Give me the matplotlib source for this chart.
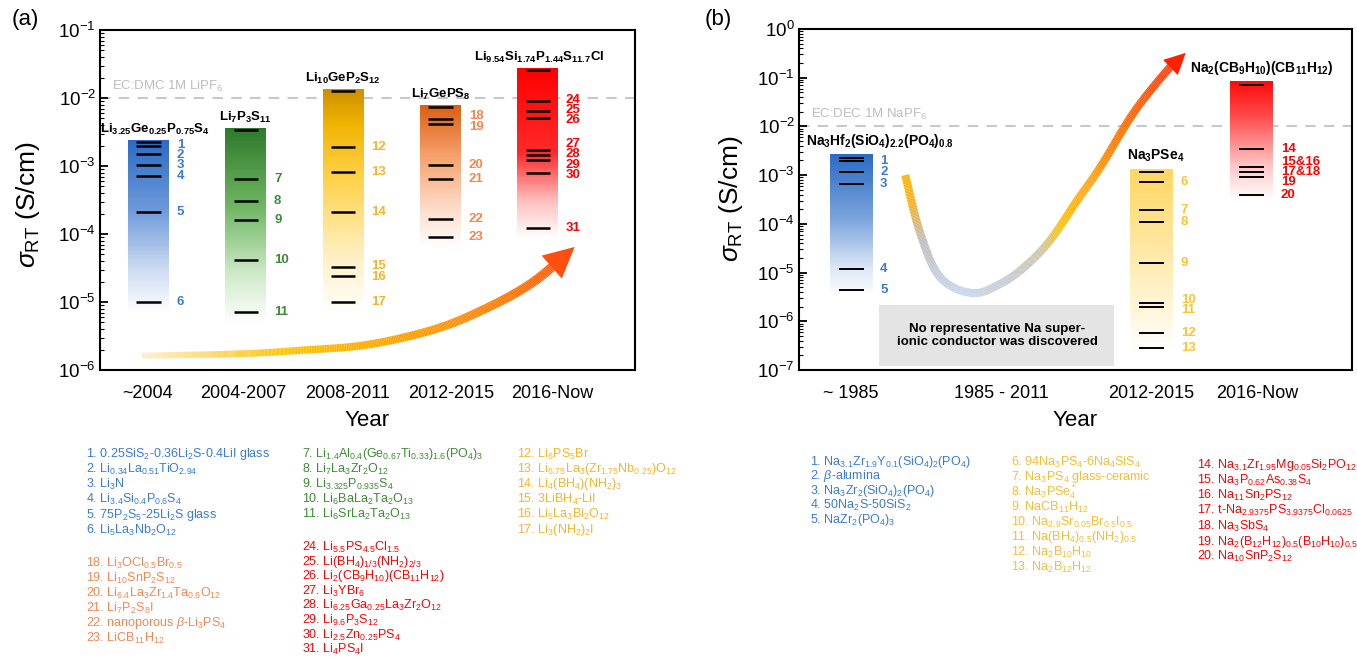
import numpy as np
import matplotlib
matplotlib.use("Agg")
import matplotlib.pyplot as plt
from matplotlib.colors import LinearSegmentedColormap
from matplotlib.collections import LineCollection
from matplotlib.ticker import LogLocator, FuncFormatter, NullFormatter

plt.rcParams["font.family"] = "Liberation Sans"
plt.rcParams["mathtext.fontset"] = "custom"
plt.rcParams["mathtext.rm"] = "Liberation Sans"
plt.rcParams["mathtext.it"] = "Liberation Sans:italic"
plt.rcParams["mathtext.bf"] = "Liberation Sans:bold"
plt.rcParams["mathtext.default"] = "regular"

W, H = 1357, 658

# ---------------- (a) Li-ion conductors ----------------
li_periods = ["~2004", "2004-2007", "2008-2011", "2012-2015", "2016-Now"]
li_tick_x = [0.99, 1.97, 3.05, 4.11, 5.15]
li_bar_x = [1, 2, 3, 4, 5]
li_names = [r"$\mathbf{Li_{3.25}Ge_{0.25}P_{0.75}S_4}$",
            r"$\mathbf{Li_7P_3S_{11}}$",
            r"$\mathbf{Li_{10}GeP_2S_{12}}$",
            r"$\mathbf{Li_7GePS_8}$",
            r"$\mathbf{Li_{9.54}Si_{1.74}P_{1.44}S_{11.7}Cl}$"]
li_name_x = [1.07, 2, 3, 4, 5.02]
li_best = [2.27e-3, 3.35e-3, 1.26e-2, 7.3e-3, 2.6e-2]
li_vals = [[1.97e-3, 1.49e-3, 1.03e-3, 7.2e-4, 2.09e-4, 1.0e-5],
           [6.4e-4, 3.1e-4, 1.6e-4, 4.1e-5, 7.1e-6],
           [1.88e-3, 8.2e-4, 2.09e-4, 3.3e-5, 2.4e-5, 1.0e-5],
           [4.97e-3, 4.1e-3, 1.02e-3, 6.45e-4, 1.66e-4, 9.0e-5],
           [9.1e-3, 6.4e-3, 5.1e-3, 1.72e-3, 1.45e-3, 1.23e-3, 8.0e-4, 1.24e-4]]
li_ids = [["1", "2", "3", "4", "5", "6"],
          ["7", "8", "9", "10", "11"],
          ["12", "13", "14", "15", "16", "17"],
          ["18", "19", "20", "21", "22", "23"],
          ["24", "25", "26", "27", "28", "29", "30", "31"]]
li_liquid = 1e-2

li_refs_blue = ["1. 0.25SiS$_2$-0.36Li$_2$S-0.4LiI glass",
                "2. Li$_{0.34}$La$_{0.51}$TiO$_{2.94}$",
                "3. Li$_3$N",
                "4. Li$_{3.4}$Si$_{0.4}$P$_{0.6}$S$_4$",
                "5. 75P$_2$S$_5$-25Li$_2$S glass",
                "6. Li$_5$La$_3$Nb$_2$O$_{12}$"]
li_refs_green = ["7. Li$_{1.4}$Al$_{0.4}$(Ge$_{0.67}$Ti$_{0.33}$)$_{1.6}$(PO$_4$)$_3$",
                 "8. Li$_7$La$_3$Zr$_2$O$_{12}$",
                 "9. Li$_{3.325}$P$_{0.935}$S$_4$",
                 "10. Li$_6$BaLa$_2$Ta$_2$O$_{13}$",
                 "11. Li$_6$SrLa$_2$Ta$_2$O$_{13}$"]
li_refs_yellow = ["12. Li$_6$PS$_5$Br",
                  "13. Li$_{6.75}$La$_3$(Zr$_{1.75}$Nb$_{0.25}$)O$_{12}$",
                  "14. Li$_4$(BH$_4$)(NH$_2$)$_3$",
                  "15. 3LiBH$_4$-LiI",
                  "16. Li$_5$La$_3$Bi$_2$O$_{12}$",
                  "17. Li$_3$(NH$_2$)$_2$I"]
li_refs_orange = ["18. Li$_3$OCl$_{0.5}$Br$_{0.5}$",
                  "19. Li$_{10}$SnP$_2$S$_{12}$",
                  "20. Li$_{6.4}$La$_3$Zr$_{1.4}$Ta$_{0.6}$O$_{12}$",
                  "21. Li$_7$P$_2$S$_8$I",
                  r"22. nanoporous $\mathit{\beta}$-Li$_3$PS$_4$",
                  "23. LiCB$_{11}$H$_{12}$"]
li_refs_red = ["24. Li$_{5.5}$PS$_{4.5}$Cl$_{1.5}$",
               "25. Li(BH$_4$)$_{1/3}$(NH$_2$)$_{2/3}$",
               "26. Li$_2$(CB$_9$H$_{10}$)(CB$_{11}$H$_{12}$)",
               "27. Li$_3$YBr$_6$",
               "28. Li$_{6.25}$Ga$_{0.25}$La$_3$Zr$_2$O$_{12}$",
               "29. Li$_{9.6}$P$_3$S$_{12}$",
               "30. Li$_{2.5}$Zn$_{0.25}$PS$_4$",
               "31. Li$_4$PS$_4$I"]

# ---------------- (b) Na-ion conductors ----------------
na_periods = ["~ 1985", "1985 - 2011", "2012-2015", "2016-Now"]
na_tick_x = [1, 2.5, 4, 5.05]
na_bar_x = [1, 4, 5]
na_names = [r"$\mathbf{Na_3Hf_2(SiO_4)_{2.2}(PO_4)_{0.8}}$",
            r"$\mathbf{Na_3PSe_4}$",
            r"$\mathbf{Na_2(CB_9H_{10})(CB_{11}H_{12})}$"]
na_best = [2.28e-3, 1.14e-3, 7.07e-2]
na_vals = [[1.95e-3, 1.17e-3, 6.65e-4, 1.16e-5, 4.4e-6],
           [7.3e-4, 1.92e-4, 1.09e-4, 1.55e-5, 2.4e-6, 1.96e-6, 5.8e-7, 2.86e-7],
           [3.4e-3, 1.44e-3, 1.14e-3, 9.0e-4, 4.0e-4]]
na_ids = [["1", "2", "3", "4", "5"],
          ["6", "7", "8", "9", "10", "11", "12", "13"],
          ["14", "15&16", "17&18", "19", "20"]]
na_liquid = 1e-2

na_refs_blue = ["1. Na$_{3.1}$Zr$_{1.9}$Y$_{0.1}$(SiO$_4$)$_2$(PO$_4$)",
                r"2. $\mathit{\beta}$-alumina",
                "3. Na$_3$Zr$_2$(SiO$_4$)$_2$(PO$_4$)",
                "4. 50Na$_2$S-50SiS$_2$",
                "5. NaZr$_2$(PO$_4$)$_3$"]
na_refs_yellow = ["6. 94Na$_3$PS$_4$-6Na$_4$SiS$_4$",
                  "7. Na$_3$PS$_4$ glass-ceramic",
                  "8. Na$_3$PSe$_4^*$",
                  "9. NaCB$_{11}$H$_{12}$",
                  "10. Na$_{2.9}$Sr$_{0.05}$Br$_{0.5}$I$_{0.5}$",
                  "11. Na(BH$_4$)$_{0.5}$(NH$_2$)$_{0.5}$",
                  "12. Na$_2$B$_{10}$H$_{10}$",
                  "13. Na$_2$B$_{12}$H$_{12}$"]
na_refs_red = ["14. Na$_{3.1}$Zr$_{1.95}$Mg$_{0.05}$Si$_2$PO$_{12}$",
               "15. Na$_3$P$_{0.62}$As$_{0.38}$S$_4$",
               "16. Na$_{11}$Sn$_2$PS$_{12}$",
               "17. t-Na$_{2.9375}$PS$_{3.9375}$Cl$_{0.0625}$",
               "18. Na$_3$SbS$_4$",
               "19. Na$_2$(B$_{12}$H$_{12}$)$_{0.5}$(B$_{10}$H$_{10}$)$_{0.5}$",
               "20. Na$_{10}$SnP$_2$S$_{12}$"]

# trend arrows, (x, log10 sigma) guide points
trend_a = [(0.93, -5.79), (1.95, -5.76), (2.56, -5.71), (3.24, -5.63),
           (3.92, -5.41), (4.43, -5.12), (4.94, -4.72), (5.38, -4.19)]
trend_b = [(1.54, -3.00), (1.69, -4.19), (1.89, -5.10), (2.21, -5.42),
           (2.50, -5.22), (2.75, -4.85), (2.99, -4.33), (3.26, -3.51),
           (3.49, -2.83), (3.82, -1.72), (4.16, -0.84), (4.34, -0.49)]

# colours
li_txt = ["#3a7bd5", "#3d8b35", "#f6b42c", "#f5864f", "#ff0000"]
na_txt = ["#3a7bd5", "#fcc431", "#ff0000"]
li_grad = [[(0, "#ffffff"), (0.25, "#cddcf2"), (0.6, "#6d99d9"), (1, "#2b6bc5")],
           [(0, "#ffffff"), (0.25, "#cfeac9"), (0.6, "#6fb661"), (1, "#2e7a2c")],
           [(0, "#ffffff"), (0.25, "#fff0c4"), (0.6, "#ffd24a"), (0.85, "#f0b300"), (1, "#cc8f00")],
           [(0, "#ffffff"), (0.3, "#fdd9c4"), (0.65, "#f5a06c"), (1, "#dd5f12")],
           [(0, "#ffffff"), (0.22, "#ffc0c0"), (0.5, "#ff2a2a"), (1, "#ff0000")]]
na_grad = [[(0, "#ffffff"), (0.2, "#dbe6f6"), (0.55, "#7aa3dc"), (1, "#2a6bc4")],
           [(0, "#ffffff"), (0.35, "#fff1c8"), (1, "#ffd660")],
           [(0, "#ffffff"), (0.3, "#ffc4c4"), (0.7, "#ff4d4d"), (1, "#ff0a0a")]]
arrow_a_grad = [(0, "#fcefd0"), (0.2, "#ffd34d"), (0.3, "#ffc400"), (0.55, "#ffa500"),
                (0.8, "#ff7800"), (1, "#ff4d00")]
arrow_b_grad = [(0, "#ffb300"), (0.06, "#f5b020"), (0.14, "#bdbdbd"), (0.28, "#c3d3ea"),
                (0.40, "#c0c4cc"), (0.48, "#c9c09e"), (0.55, "#ffc000"), (0.70, "#ff9000"),
                (0.86, "#ff5a00"), (1, "#ff2000")]


def spread(vals, gap):
    # push label positions apart (in decades) so they do not overlap
    y = np.log10(np.asarray(vals, float))
    for _ in range(500):
        moved = False
        for i in range(len(y) - 1):
            d = y[i] - y[i + 1]
            if d < gap - 1e-9:
                s = (gap - d) / 2
                y[i] += s
                y[i + 1] -= s
                moved = True
        if not moved:
            break
    return 10 ** y


def catmull(pts, n=40):
    P = np.asarray(pts, float)
    P = np.vstack([2 * P[0] - P[1], P, 2 * P[-1] - P[-2]])
    t = np.linspace(0, 1, n, endpoint=False)[:, None]
    out = []
    for i in range(1, len(P) - 2):
        p0, p1, p2, p3 = P[i - 1], P[i], P[i + 1], P[i + 2]
        out.append(0.5 * (2 * p1 + (-p0 + p2) * t + (2 * p0 - 5 * p1 + 4 * p2 - p3) * t ** 2
                          + (-p0 + 3 * p1 - 3 * p2 + p3) * t ** 3))
    out.append(P[-2][None])
    return np.vstack(out)


def gradient_arrow(ax, pts, stops, widths, head_ms, head_color):
    xy = catmull(pts)
    x, y = xy[:, 0], 10 ** xy[:, 1]
    disp = ax.transData.transform(np.column_stack([x, y]))
    d = np.r_[0, np.cumsum(np.hypot(*np.diff(disp, axis=0).T))]
    t = d / d[-1]
    head_len = 0.4 * head_ms * fig.dpi / 72
    segs = np.stack([np.column_stack([x[:-1], y[:-1]]), np.column_stack([x[1:], y[1:]])], axis=1)
    tm = (t[:-1] + t[1:]) / 2
    cmap = LinearSegmentedColormap.from_list("g", stops)
    lw = np.interp(tm, [0, 1], widths)
    keep = d[1:] <= d[-1] - 0.7 * head_len
    lc = LineCollection(segs[keep], colors=cmap(tm[keep]), linewidths=lw[keep],
                        capstyle="butt", zorder=4)
    ax.add_collection(lc)
    j = np.searchsorted(d, d[-1] - 1.3 * head_len)
    ax.annotate("", xy=(x[-1], y[-1]), xytext=(x[j], y[j]),
                arrowprops=dict(arrowstyle="-|>", mutation_scale=head_ms, fc=head_color,
                                ec=head_color, lw=0, shrinkA=0, shrinkB=0), zorder=5)


def style_axis(ax, ylim, xlim, ticks_x, tick_labels):
    ax.set_yscale("log")
    ax.set_ylim(*ylim)
    ax.set_xlim(*xlim)
    ax.yaxis.set_major_locator(LogLocator(base=10, numticks=20))
    ax.yaxis.set_minor_locator(LogLocator(base=10, subs=np.arange(2, 10), numticks=20))
    ax.yaxis.set_minor_formatter(NullFormatter())
    ax.yaxis.set_major_formatter(FuncFormatter(lambda v, _: r"$10^{%d}$" % round(np.log10(v))))
    ax.tick_params(axis="y", which="major", direction="in", length=6, width=1.3,
                   labelsize=13.5, pad=3)
    ax.tick_params(axis="y", which="minor", direction="in", length=3, width=0.8)
    ax.set_xticks(ticks_x)
    ax.set_xticklabels(tick_labels)
    ax.tick_params(axis="x", length=0, labelsize=13, pad=11)
    for s in ax.spines.values():
        s.set_linewidth(1.5)


def draw_bars(ax, xs, best, vals, ids, grads, txt, width, half, gap, lw_line, pad_top, pad_bot):
    for i, x in enumerate(xs):
        top = best[i] * pad_top
        bot = min(vals[i]) / pad_bot
        edges = np.logspace(np.log10(bot), np.log10(top), 150)
        frac = np.linspace(0, 1, 149)[:, None]
        cmap = LinearSegmentedColormap.from_list("bar%d" % i, grads[i])
        ax.pcolormesh([x - width / 2, x + width / 2], edges, frac, cmap=cmap,
                      vmin=0, vmax=1, shading="flat", zorder=1)
        ax.hlines([best[i]] + vals[i], x - half, x + half, colors="k", lw=lw_line, zorder=2)
        for yy, lab in zip(spread(vals[i], gap), ids[i]):
            ax.text(x + 0.29, yy, lab, color=txt[i], fontsize=9.5, fontweight="bold",
                    ha="left", va="center", zorder=3)


def ftext(px, py, s, **kw):
    fig.text(px / W, 1 - py / H, s, **kw)


def ref_column(px, py, items, color, step):
    for k, s in enumerate(items):
        ftext(px, py + k * step, s, color=color, fontsize=9, ha="left", va="center")


fig = plt.figure(figsize=(W / 100, H / 100), dpi=100)
axa = fig.add_axes([100 / W, 1 - 370 / H, 535 / W, 340 / H])
axb = fig.add_axes([799 / W, 1 - 370 / H, 553 / W, 341 / H])

# ---- panel (a)
style_axis(axa, (1e-6, 1e-1), (0.5, 6.0), li_tick_x, li_periods)
axa.axhline(li_liquid, color="#c8c8c8", lw=1.5, ls=(0, (5, 4)), zorder=0.5)
axa.annotate("EC:DMC 1M LiPF$_6$", (0.62, li_liquid), xytext=(0, 3), textcoords="offset points",
             color="#bdbdbd", fontsize=9.5, ha="left", va="bottom")
draw_bars(axa, li_bar_x, li_best, li_vals, li_ids, li_grad, li_txt,
          0.42, 0.125, 0.152, 1.8, 1.08, 1.5)
for x, b, n in zip(li_name_x, li_best, li_names):
    axa.annotate(n, (x, b * 1.08), xytext=(0, 2), textcoords="offset points",
                 fontsize=9.5, ha="center", va="bottom", zorder=3)
gradient_arrow(axa, trend_a, arrow_a_grad, (4.3, 7.0), 55, "#ff4f10")

# ---- panel (b)
style_axis(axb, (1e-7, 1e0), (0.48, 6.0), na_tick_x, na_periods)
axb.axhline(na_liquid, color="#c8c8c8", lw=1.5, ls=(0, (5, 4)), zorder=0.5)
axb.annotate("EC:DEC 1M NaPF$_6$", (0.6, na_liquid), xytext=(0, 3), textcoords="offset points",
             color="#bdbdbd", fontsize=9.5, ha="left", va="bottom")
draw_bars(axb, na_bar_x, na_best, na_vals, na_ids, na_grad, na_txt,
          0.43, 0.125, 0.205, 1.4, 1.2, 1.35)
name_pos = [(0.55, "left"), (4.04, "center"), (5.1, "center")]
for (nx, ha), b, n in zip(name_pos, na_best, na_names):
    axb.annotate(n, (nx, b * 1.2), xytext=(0, 3), textcoords="offset points",
                 fontsize=10, ha=ha, va="bottom", zorder=3)
axb.fill_between([1.28, 3.62], 1.2e-7, 2.15e-6, color="#e4e4e4", lw=0, zorder=0.8)
axb.text(2.46, np.sqrt(1.2e-7 * 2.15e-6), "No representative Na super-\nionic conductor was discovered",
         fontsize=9.5, fontweight="bold", ha="center", va="center", linespacing=1.15, zorder=3)
gradient_arrow(axb, trend_b, arrow_b_grad, (5.8, 5.8), 38, "#ff2000")

# ---- axis titles / panel tags
ylab = r"$\mathit{\sigma}_{\mathrm{RT}}$ (S/cm)"
ftext(28, 205, ylab, fontsize=19, rotation=90, ha="center", va="center")
ftext(731, 199, ylab, fontsize=19, rotation=90, ha="center", va="center")
ftext(367, 421, "Year", fontsize=16, ha="center", va="center")
ftext(1075, 421, "Year", fontsize=16, ha="center", va="center")
ftext(25, 20, "(a)", fontsize=16, ha="center", va="center")
ftext(718, 20, "(b)", fontsize=16, ha="center", va="center")

# ---- reference lists
ref_column(86, 454, li_refs_blue, li_txt[0], 15.2)
ref_column(302, 454, li_refs_green, li_txt[1], 15.2)
ref_column(517, 454, li_refs_yellow, li_txt[2], 15.2)
ref_column(86, 563, li_refs_orange, li_txt[3], 15)
ref_column(302, 547, li_refs_red, li_txt[4], 14.7)
ref_column(810, 462, na_refs_blue, na_txt[0], 14.5)
ref_column(1011, 462, na_refs_yellow, "#f7bd35", 15)
ref_column(1197, 465, na_refs_red, na_txt[2], 15.3)

fig.savefig("out.png", dpi=100)
